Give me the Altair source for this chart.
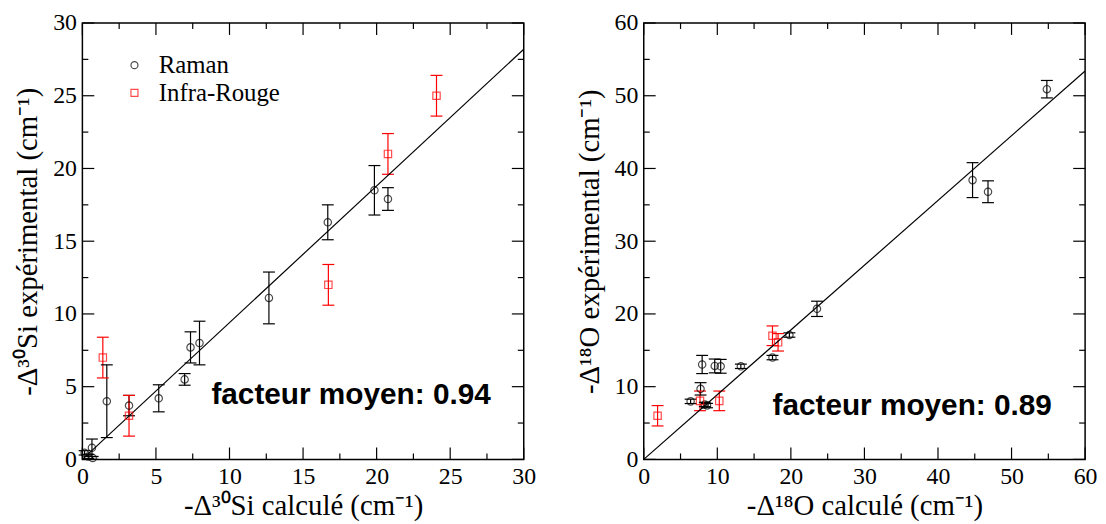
import altair as alt
import pandas as pd

# ---- left panel (30Si) ----
si_raman_x = [0.15, 0.4, 0.7, 0.65, 1.66, 3.17, 5.19, 6.95, 7.35, 7.96, 12.68, 16.68, 19.85, 20.77]
si_raman_y = [0.45, 0.2, 0.1, 0.8, 4.0, 3.7, 4.2, 5.5, 7.7, 8.0, 11.1, 16.3, 18.5, 17.9]
si_raman_e = [0.15, 0.15, 0.1, 0.6, 2.5, 0.7, 0.93, 0.4, 1.07, 1.5, 1.78, 1.2, 1.7, 0.78]
si_ir_x = [1.39, 3.17, 16.72, 20.77, 24.07]
si_ir_y = [7.0, 3.0, 12.0, 21.0, 25.0]
si_ir_e = [1.4, 1.4, 1.4, 1.4, 1.4]
si_fit_x = [0, 30]
si_fit_y = [0, 28.2]
si_major = [0, 5, 10, 15, 20, 25, 30]
si_minor = [2.5, 7.5, 12.5, 17.5, 22.5, 27.5]
si_note = ["facteur moyen: 0.94"]
si_note_x = [8.77]
si_note_y = [4.4]

# ---- right panel (18O) ----
o_raman_x = [6.37, 7.72, 7.94, 8.3, 8.6, 9.65, 10.46, 13.2, 17.5, 19.8, 23.55, 44.7, 46.8, 54.8]
o_raman_y = [7.98, 9.7, 13.05, 7.55, 7.4, 12.85, 12.8, 12.8, 14.0, 17.1, 20.7, 38.4, 36.8, 50.9]
o_raman_e = [0.3, 0.85, 1.25, 0.3, 0.3, 0.95, 0.95, 0.3, 0.3, 0.3, 1.05, 2.4, 1.5, 1.2]
o_ir_x = [1.88, 7.65, 10.27, 17.5, 18.26]
o_ir_y = [6.0, 8.05, 8.05, 17.0, 16.1]
o_ir_e = [1.4, 1.35, 1.35, 1.35, 1.2]
o_fit_x = [0, 60]
o_fit_y = [0, 53.4]
o_major = [0, 10, 20, 30, 40, 50, 60]
o_minor = [5, 15, 25, 35, 45, 55]
o_note = ["facteur moyen: 0.89"]
o_note_x = [17.5]
o_note_y = [7.4]

types = ["Raman", "Infra-Rouge"]
type_colors = ["black", "red"]
type_shapes = ["circle", "square"]

W = 445
H = 440
MAJ = 12
MIN = 6
SERIF = "Liberation Serif"


def panel(rx, ry, re, ix, iy, ie, fx, fy, major, minor, note, nx, ny, dmax, xtitle, ytitle, show_legend):
    pts = pd.DataFrame({
        "x": rx + ix,
        "y": ry + iy,
        "e": re + ie,
        "type": [types[0]] * len(rx) + [types[1]] * len(ix),
    })
    pts["lo"] = pts["y"] - pts["e"]
    pts["hi"] = pts["y"] + pts["e"]
    xs = alt.Scale(domain=[0, dmax], nice=False, zero=False)
    ys = alt.Scale(domain=[0, dmax], nice=False, zero=False)
    xaxis = alt.Axis(values=major, title=xtitle, labelFlush=False, domain=False, ticks=False,
                     grid=False, labelPadding=5, titlePadding=4,
                     labelFont=SERIF, labelFontSize=24, labelColor="black",
                     titleFont=SERIF, titleFontSize=29, titleFontWeight="normal", titleColor="black")
    yaxis = alt.Axis(values=major, title=ytitle, labelFlush=False, domain=False, ticks=False,
                     grid=False, labelPadding=6, titlePadding=10,
                     labelFont=SERIF, labelFontSize=24, labelColor="black",
                     titleFont=SERIF, titleFontSize=29, titleFontWeight="normal", titleColor="black")
    col_scale = alt.Scale(domain=types, range=type_colors)
    shp_scale = alt.Scale(domain=types, range=type_shapes)
    if show_legend:
        leg = alt.Legend(title=None, orient="none", legendX=40, legendY=30,
                         labelFont=SERIF, labelFontSize=25, labelColor="black",
                         symbolSize=50, symbolStrokeWidth=1.2, rowPadding=2,
                         labelOffset=12, labelLimit=400)
    else:
        leg = None
    col = alt.Color("type:N", scale=col_scale, legend=leg)
    shp = alt.Shape("type:N", scale=shp_scale, legend=leg)

    base = alt.Chart(pts)
    err = base.mark_rule(strokeWidth=1.2).encode(
        x=alt.X("x:Q", scale=xs, axis=xaxis),
        y=alt.Y("lo:Q", scale=ys, axis=yaxis),
        y2="hi:Q",
        color=col,
    )
    cap_lo = base.mark_rule(strokeWidth=1.2, xOffset=-6, x2Offset=6).encode(
        x=alt.X("x:Q", scale=xs), x2="x:Q", y=alt.Y("lo:Q", scale=ys), color=col,
    )
    cap_hi = base.mark_rule(strokeWidth=1.2, xOffset=-6, x2Offset=6).encode(
        x=alt.X("x:Q", scale=xs), x2="x:Q", y=alt.Y("hi:Q", scale=ys), color=col,
    )
    points = base.mark_point(filled=False, size=55, strokeWidth=1.2).encode(
        x=alt.X("x:Q", scale=xs), y=alt.Y("y:Q", scale=ys), color=col, shape=shp,
    )
    fit = alt.Chart(pd.DataFrame({"x": fx, "y": fy})).mark_line(color="black", strokeWidth=1.2).encode(
        x=alt.X("x:Q", scale=xs), y=alt.Y("y:Q", scale=ys)
    )
    txt = alt.Chart(pd.DataFrame({"t": note, "x": nx, "y": ny})).mark_text(
        align="left", baseline="middle", font="Liberation Sans", fontWeight="bold",
        fontSize=30, color="black"
    ).encode(x=alt.X("x:Q", scale=xs), y=alt.Y("y:Q", scale=ys), text="t:N")

    maj = pd.DataFrame({"v": major})
    mnr = pd.DataFrame({"v": minor})
    tick_layers = []
    for df, L in ((maj, MAJ), (mnr, MIN)):
        c = alt.Chart(df).mark_rule(color="black", strokeWidth=1.2)
        tick_layers += [
            c.encode(x=alt.X("v:Q", scale=xs), y=alt.value(H), y2=alt.value(H - L)),
            c.encode(x=alt.X("v:Q", scale=xs), y=alt.value(0), y2=alt.value(L)),
            c.encode(y=alt.Y("v:Q", scale=ys), x=alt.value(0), x2=alt.value(L)),
            c.encode(y=alt.Y("v:Q", scale=ys), x=alt.value(W), x2=alt.value(W - L)),
        ]
    return alt.layer(err, cap_lo, cap_hi, fit, *tick_layers, points, txt).properties(width=W, height=H)


left = panel(si_raman_x, si_raman_y, si_raman_e, si_ir_x, si_ir_y, si_ir_e, si_fit_x, si_fit_y,
             si_major, si_minor, si_note, si_note_x, si_note_y, 30,
             "-Δ³⁰Si calculé (cm⁻¹)", "-Δ³⁰Si expérimental (cm⁻¹)", True)
right = panel(o_raman_x, o_raman_y, o_raman_e, o_ir_x, o_ir_y, o_ir_e, o_fit_x, o_fit_y,
              o_major, o_minor, o_note, o_note_x, o_note_y, 60,
              "-Δ¹⁸O calculé (cm⁻¹)", "-Δ¹⁸O expérimental (cm⁻¹)", False)

chart = alt.hconcat(left, right, spacing=38).resolve_legend(
    color="independent", shape="independent"
).properties(
    padding={"left": 5, "top": 0, "right": 0, "bottom": 0},
    background="white",
).configure_view(
    stroke="black", strokeWidth=1.5
)

chart.save("out.html", embed_options={"renderer": "svg", "actions": False})
